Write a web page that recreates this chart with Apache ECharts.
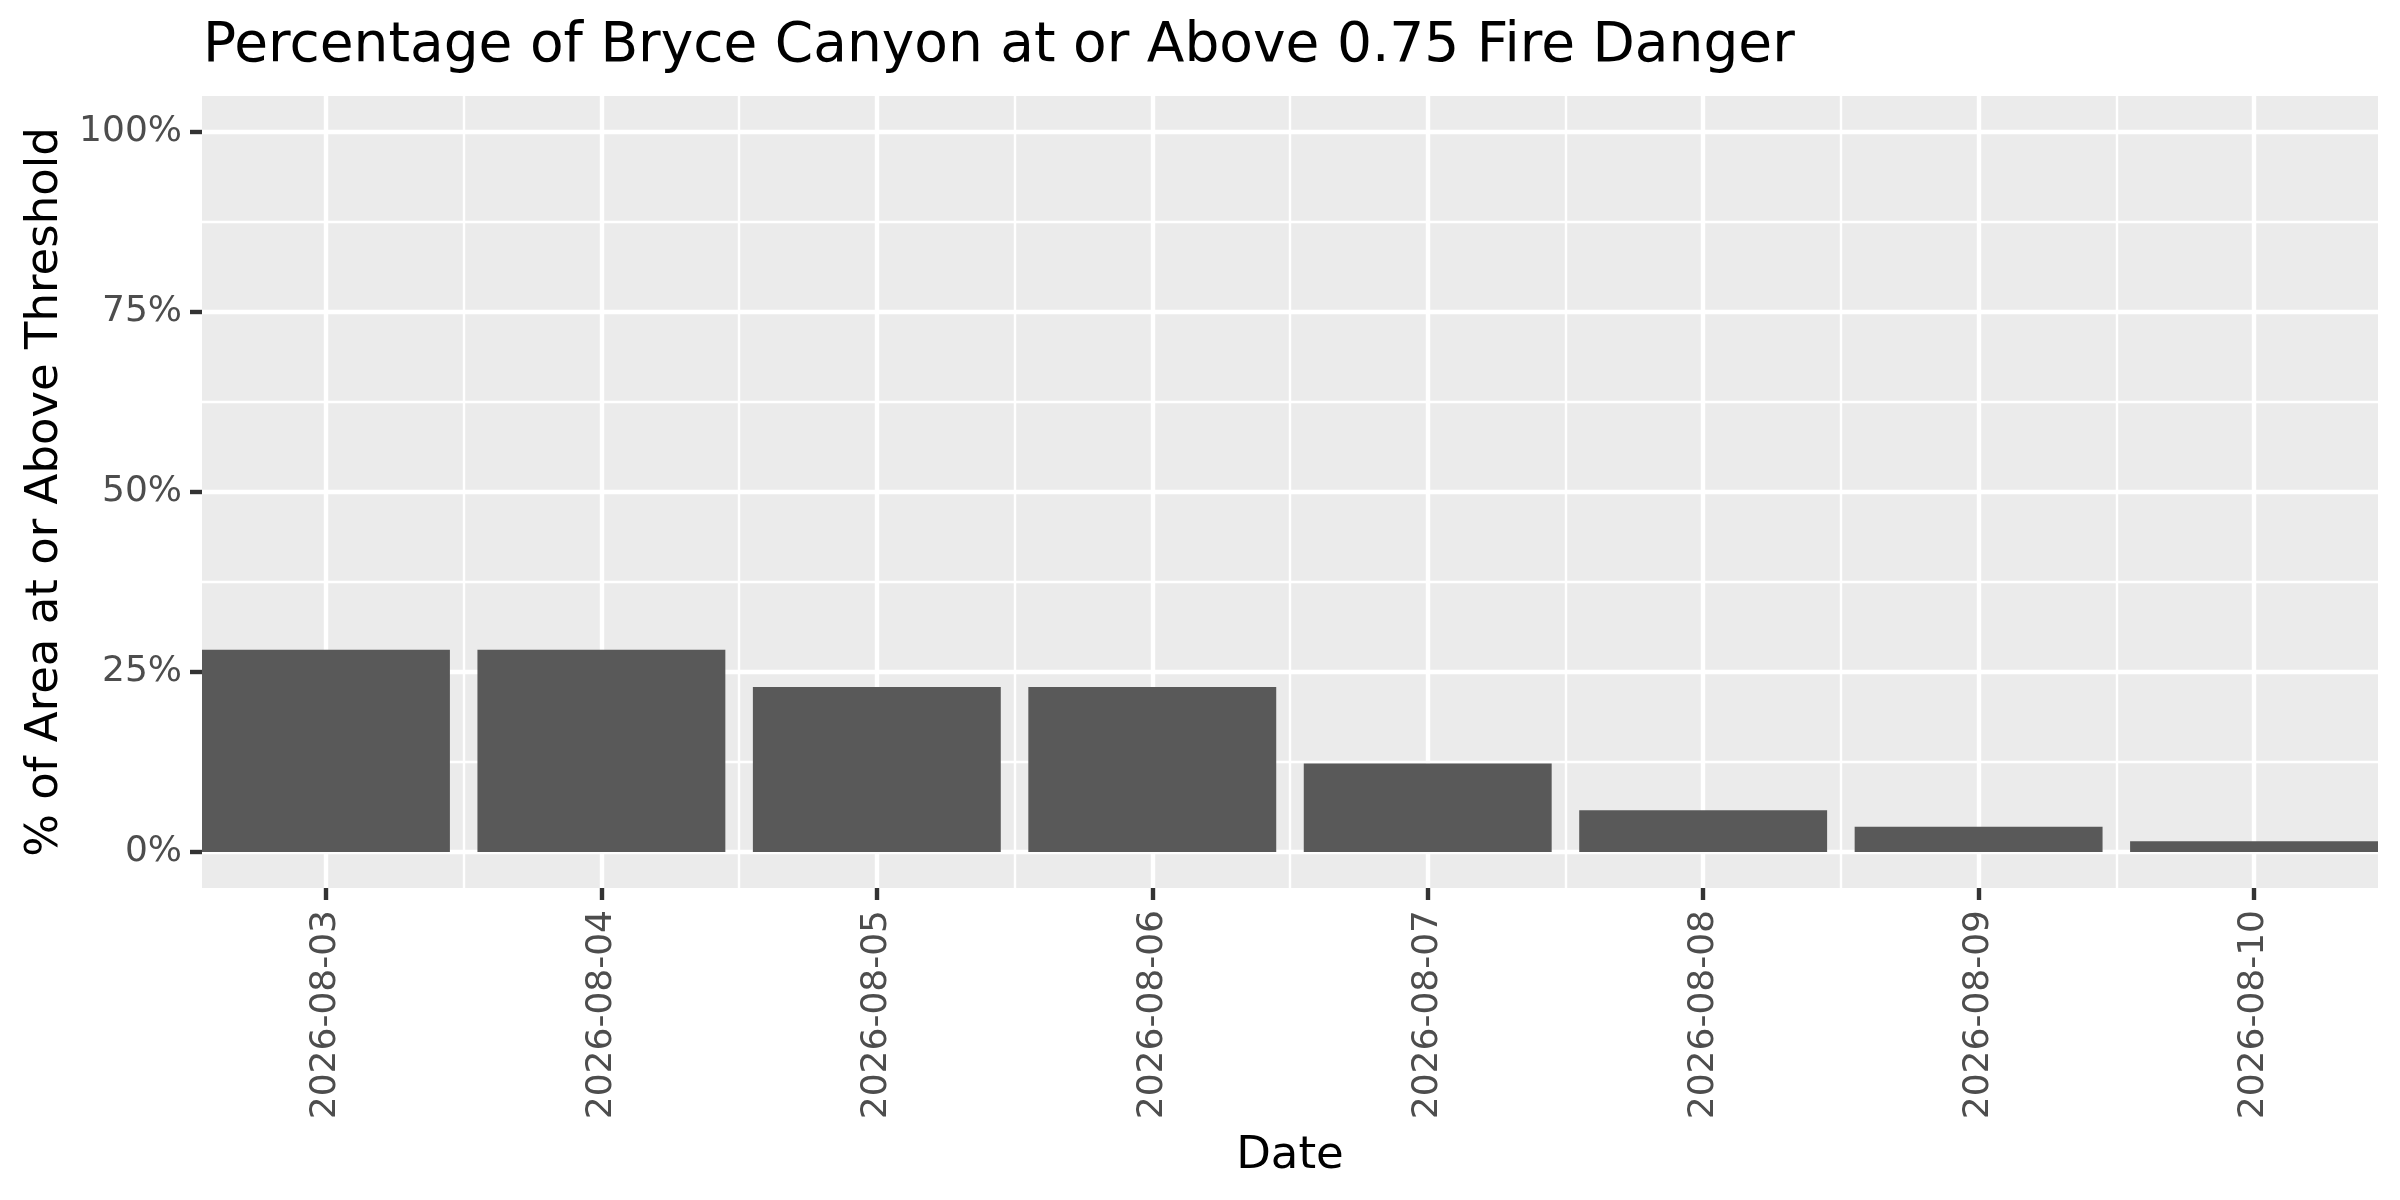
<!DOCTYPE html>
<html>
<head>
<meta charset="utf-8">
<script src="https://cdn.jsdelivr.net/npm/echarts@6/dist/echarts.min.js"></script>
<style>
  html, body { margin: 0; padding: 0; background: #fff; }
  #main { width: 2400px; height: 1200px; }
</style>
</head>
<body>
<div id="main"></div>
<script>
// data
const dates = ['2026-08-03', '2026-08-04', '2026-08-05', '2026-08-06',
               '2026-08-07', '2026-08-08', '2026-08-09', '2026-08-10'];
const pctAbove = [28.1, 28.1, 22.9, 22.9, 12.3, 5.8, 3.5, 1.5];
const yTicks = [0, 25, 50, 75, 100];
const yMinor = [12.5, 37.5, 62.5, 87.5];

const xPos = dates.map((d, i) => i + 1);
const xMinor = xPos.slice(0, -1).map(v => v + 0.5);

const chartDom = document.getElementById('main');
let myChart = echarts.init(chartDom);
const font = 'DejaVu Sans';

let option;
option = {
    backgroundColor: '#ffffff',
    animation: false,
    title: {
        text: 'Percentage of Bryce Canyon at or Above 0.75 Fire Danger',
        left: 198,
        top: 14,
        textStyle: { fontFamily: font, fontSize: 55, fontWeight: 'normal', color: '#000' }
    },
    grid: {
        left: 202, right: 22, top: 96, bottom: 312,
        outerBoundsMode: 'none',
        show: true, backgroundColor: '#EBEBEB', borderWidth: 0
    },
    xAxis: [{
        type: 'value', min: 0.55, max: 8.45,
        name: 'Date', nameLocation: 'middle', nameGap: 246,
        nameTextStyle: { fontFamily: font, fontSize: 45, color: '#000' },
        axisLine: { show: false, onZero: false },
        axisTick: { show: true, customValues: xPos, length: 12,
                    lineStyle: { color: '#333333', width: 4.4 } },
        axisLabel: { customValues: xPos, rotate: 90, margin: 22,
                     fontFamily: font, fontSize: 36, color: '#4D4D4D',
                     formatter: v => dates[Math.round(v) - 1] },
        splitLine: { show: true, lineStyle: { color: '#ffffff', width: 4.4 } }
    }, {
        type: 'value', min: 0.55, max: 8.45, position: 'bottom',
        axisLine: { show: false, onZero: false },
        axisTick: { show: false, customValues: xMinor },
        axisLabel: { show: false, customValues: xMinor },
        splitLine: { show: true, lineStyle: { color: '#ffffff', width: 2.4 } }
    }],
    yAxis: [{
        type: 'value', min: -5, max: 105,
        name: '% of Area at or Above Threshold', nameLocation: 'middle', nameGap: 134,
        nameRotate: 90,
        nameTextStyle: { fontFamily: font, fontSize: 45, color: '#000' },
        axisLine: { show: false, onZero: false },
        axisTick: { show: true, customValues: yTicks, length: 12,
                    lineStyle: { color: '#333333', width: 4.4 } },
        axisLabel: { customValues: yTicks, margin: 20,
                     fontFamily: font, fontSize: 36, color: '#4D4D4D',
                     formatter: v => v + '%' },
        splitLine: { show: true, lineStyle: { color: '#ffffff', width: 4.4 } }
    }, {
        type: 'value', min: -5, max: 105, position: 'left',
        axisLine: { show: false, onZero: false },
        axisTick: { show: false, customValues: yMinor },
        axisLabel: { show: false, customValues: yMinor },
        splitLine: { show: true, lineStyle: { color: '#ffffff', width: 2.4 } }
    }],
    series: [{
        type: 'bar',
        xAxisIndex: 0, yAxisIndex: 0,
        barWidth: '90%',
        itemStyle: { color: '#595959' },
        data: xPos.map((x, i) => [x, pctAbove[i]])
    }]
};

option && myChart.setOption(option);
</script>
</body>
</html>
